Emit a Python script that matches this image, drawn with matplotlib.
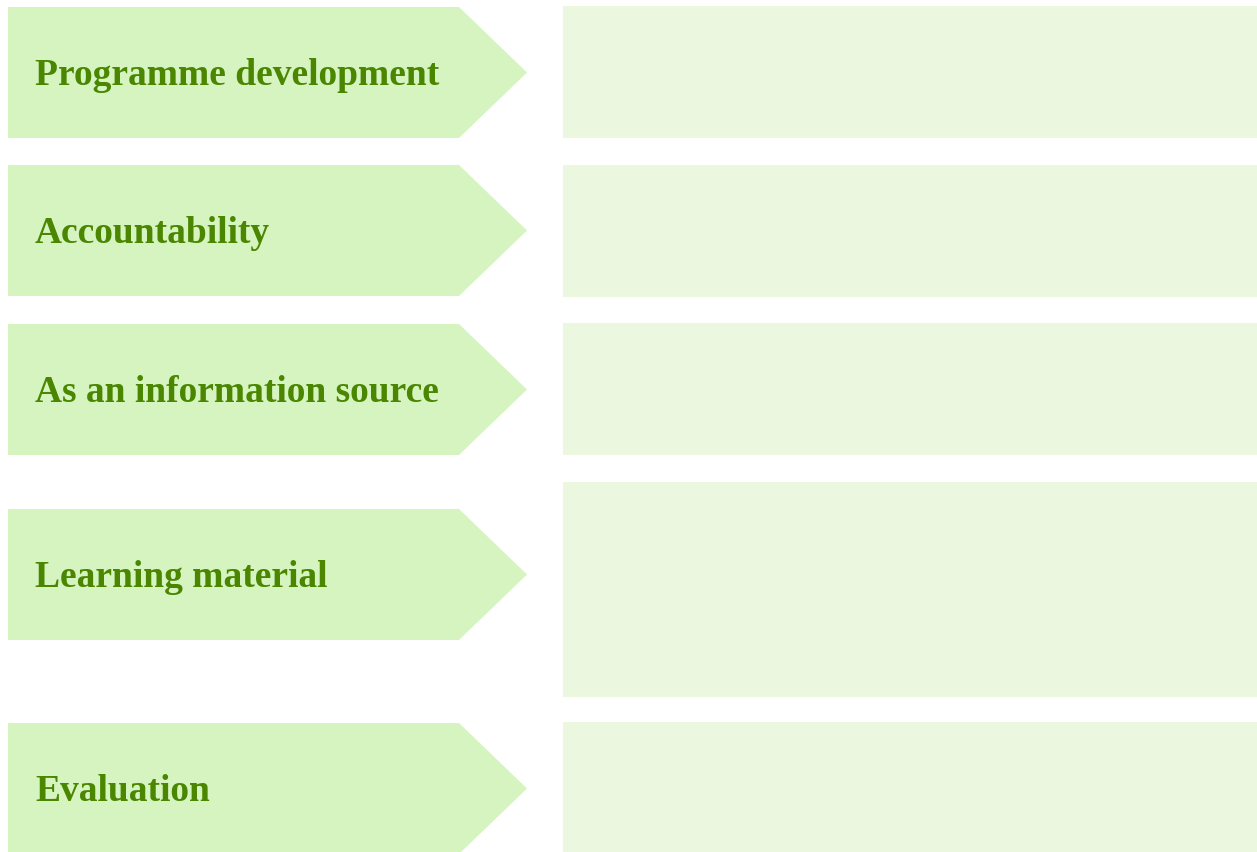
import matplotlib.pyplot as plt
from matplotlib.patches import Polygon, Rectangle

labels = ['Programme development', 'Accountability', 'As an information source',
          'Learning material', 'Evaluation']
arrow_top = [8, 166, 325, 510, 724]
arrow_bottom = [139, 297, 456, 641, 855]
box_top = [7, 166, 324, 483, 723]
box_bottom = [139, 298, 456, 698, 855]

W, H = 1257, 853
arrow_left, arrow_body, arrow_tip = 8, 459, 527
box_left, box_right = 563, 1257

fig = plt.figure(figsize=(W / 100, H / 100), dpi=100)
ax = fig.add_axes([0, 0, 1, 1])
ax.set_xlim(0, W)
ax.set_ylim(H, 0)
ax.axis('off')

for lab, at, ab, bt, bb in zip(labels, arrow_top, arrow_bottom, box_top, box_bottom):
    mid = (at + ab) / 2
    pts = [(arrow_left, at), (arrow_body, at), (arrow_tip, mid),
           (arrow_body, ab), (arrow_left, ab)]
    ax.add_patch(Polygon(pts, closed=True, facecolor='#d6f4c0', edgecolor='none'))
    ax.add_patch(Rectangle((box_left, bt), box_right - box_left, bb - bt,
                           facecolor='#ebf8df', edgecolor='none'))
    ax.text(35, mid + 11.5, lab, family='Liberation Serif', weight='bold',
            fontsize=27, color='#4a8600', va='baseline', ha='left')

fig.savefig('out.png', dpi=100)
